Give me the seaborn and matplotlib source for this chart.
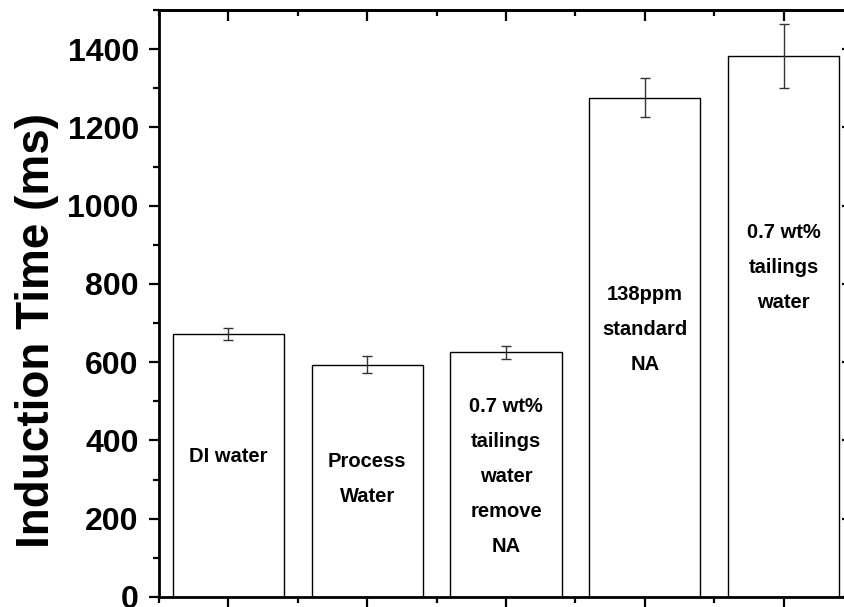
import matplotlib
matplotlib.use("Agg")
import matplotlib.pyplot as plt
from matplotlib.ticker import MultipleLocator, FixedLocator
import seaborn as sns
import pandas as pd

# Flotation induction time for each water chemistry
conditions = ["DI water", "Process Water", "0.7 wt% tailings water remove NA",
              "138ppm standard NA", "0.7 wt% tailings water"]
bar_text = ["DI water", "Process\nWater", "0.7 wt%\ntailings\nwater\nremove\nNA",
            "138ppm\nstandard\nNA", "0.7 wt%\ntailings\nwater"]
induction_ms = [672, 594, 625, 1276, 1383]
error_ms = [15, 22, 17, 50, 82]
y_ticks = [0, 200, 400, 600, 800, 1000, 1200, 1400]

# vertical placement (data units) of the top of each in-bar caption
text_top = [383, 370, 511, 797, 955]

sns.set_style("ticks", {"axes.edgecolor": "black", "xtick.color": "black",
                        "ytick.color": "black", "text.color": "black",
                        "axes.labelcolor": "black"})
plt.rcParams["font.family"] = ["Liberation Sans", "DejaVu Sans"]
plt.rcParams["font.weight"] = "bold"

df = pd.DataFrame({"condition": conditions, "time": induction_ms})

fig = plt.figure(figsize=(8.45, 6.07), dpi=100)
ax = fig.add_axes([159 / 845, 10 / 607, 694 / 845, 587 / 607])

sns.barplot(data=df, x="condition", y="time", order=conditions, color="white",
            saturation=1, edgecolor="black", linewidth=1.0, width=0.8,
            errorbar=None, ax=ax)
ax.errorbar(range(len(conditions)), induction_ms, yerr=error_ms, fmt="none",
            ecolor="#333333", elinewidth=1.0, capsize=3.7, capthick=1.0, zorder=3)

for i, (txt, yt) in enumerate(zip(bar_text, text_top)):
    ax.text(i, yt, txt, ha="center", va="top", fontsize=14.5, fontweight="bold",
            linespacing=2.06, multialignment="center")

ax.set_xlim(-0.5, 4.5)
ax.set_ylim(0, 1500)
ax.set_xticks(range(len(conditions)))
ax.set_xticklabels([])
ax.xaxis.set_minor_locator(FixedLocator([-0.5, 0.5, 1.5, 2.5, 3.5, 4.5]))
ax.set_yticks(y_ticks)
ax.set_yticklabels([str(v) for v in y_ticks])
ax.yaxis.set_minor_locator(MultipleLocator(100))
ax.set_xlabel("")

ax.tick_params(axis="both", which="major", direction="out", length=7.5, width=1.6,
               labelsize=23, pad=7)
ax.tick_params(axis="both", which="minor", direction="out", length=4.3, width=1.6)
for lab in ax.get_yticklabels():
    lab.set_fontweight("bold")

for side in ["left", "right", "top", "bottom"]:
    ax.spines[side].set_visible(True)
    ax.spines[side].set_linewidth(2.0)

# mirrored axes on top and right with inward ticks
top = ax.secondary_xaxis("top")
top.set_xticks(range(len(conditions)))
top.set_xticklabels([])
top.xaxis.set_minor_locator(FixedLocator([-0.5, 0.5, 1.5, 2.5, 3.5, 4.5]))
top.tick_params(which="major", direction="in", length=8, width=1.6)
top.tick_params(which="minor", direction="in", length=4.3, width=1.6)
top.spines["top"].set_linewidth(2.0)

right = ax.secondary_yaxis("right")
right.set_yticks(y_ticks)
right.set_yticklabels([])
right.yaxis.set_minor_locator(MultipleLocator(100))
right.tick_params(which="major", direction="in", length=8, width=1.6)
right.tick_params(which="minor", direction="in", length=4.3, width=1.6)
right.spines["right"].set_linewidth(2.0)

ax.set_ylabel("Induction Time (ms)", fontsize=33, fontweight="bold")
ax.yaxis.set_label_coords(-0.1441, 0.4532)

fig.savefig("out.png", dpi=100)
